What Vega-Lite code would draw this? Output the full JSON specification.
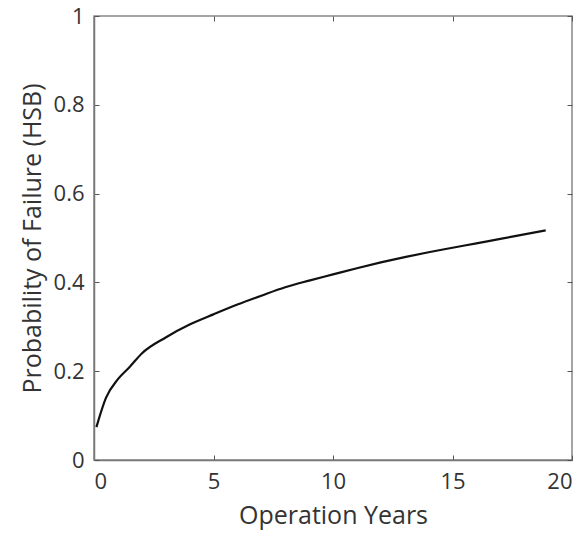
{
  "$schema": "https://vega.github.io/schema/vega-lite/v6.json",
  "autosize": "none",
  "width": 478,
  "height": 444,
  "padding": {"left": 94, "top": 16, "right": 7, "bottom": 79},
  "background": "white",
  "config": {
    "view": {"stroke": "#888888", "strokeWidth": 1.5},
    "axis": {"grid": false, "domainColor": "#777777", "tickColor": "#555555", "labelColor": "#333333", "titleColor": "#333333", "labelFont": "Open Sans", "titleFont": "Open Sans", "labelFontSize": 22, "titleFontSize": 25, "titleFontWeight": "normal"}
  },
  "data": {"values": [
    {"x": 0.1, "y": 0.074},
    {"x": 0.5, "y": 0.14},
    {"x": 1.0, "y": 0.182},
    {"x": 1.5, "y": 0.21},
    {"x": 2.0, "y": 0.24},
    {"x": 3.0, "y": 0.276},
    {"x": 4.0, "y": 0.305},
    {"x": 5.0, "y": 0.328},
    {"x": 6.0, "y": 0.35},
    {"x": 7.0, "y": 0.37},
    {"x": 8.0, "y": 0.389},
    {"x": 9.0, "y": 0.404},
    {"x": 10.0, "y": 0.418},
    {"x": 11.0, "y": 0.432},
    {"x": 12.0, "y": 0.445},
    {"x": 13.0, "y": 0.457},
    {"x": 14.0, "y": 0.468},
    {"x": 15.0, "y": 0.478},
    {"x": 16.0, "y": 0.488},
    {"x": 17.0, "y": 0.498},
    {"x": 18.0, "y": 0.508},
    {"x": 18.9, "y": 0.517}
  ]},
  "layer": [
    {
      "mark": {"type": "line", "color": "#111111", "strokeWidth": 2.2, "interpolate": "monotone"},
      "encoding": {
        "x": {"field": "x", "type": "quantitative", "scale": {"domain": [0, 20], "nice": false}, "axis": {"title": "Operation Years", "values": [0, 5, 10, 15, 20], "format": "~g", "tickSize": -5, "labelPadding": 16, "titlePadding": 11, "domainWidth": 1.5}},
        "y": {"field": "y", "type": "quantitative", "scale": {"domain": [0, 1], "nice": false}, "axis": {"title": "Probability of Failure (HSB)", "values": [0, 0.2, 0.4, 0.6, 0.8, 1], "format": "~g", "tickSize": -5, "labelPadding": 15, "titlePadding": 8, "domainWidth": 1.5}}
      }
    },
    {
      "mark": {"type": "line", "opacity": 0},
      "encoding": {
        "x": {"field": "x", "type": "quantitative", "scale": {"domain": [0, 20], "nice": false}, "axis": {"orient": "top", "title": null, "labels": false, "values": [0, 5, 10, 15, 20], "tickSize": -5, "domain": false}},
        "y": {"field": "y", "type": "quantitative", "scale": {"domain": [0, 1], "nice": false}, "axis": {"orient": "right", "title": null, "labels": false, "values": [0, 0.2, 0.4, 0.6, 0.8, 1], "tickSize": -5, "domain": false}}
      }
    }
  ],
  "resolve": {"axis": {"x": "independent", "y": "independent"}}
}
